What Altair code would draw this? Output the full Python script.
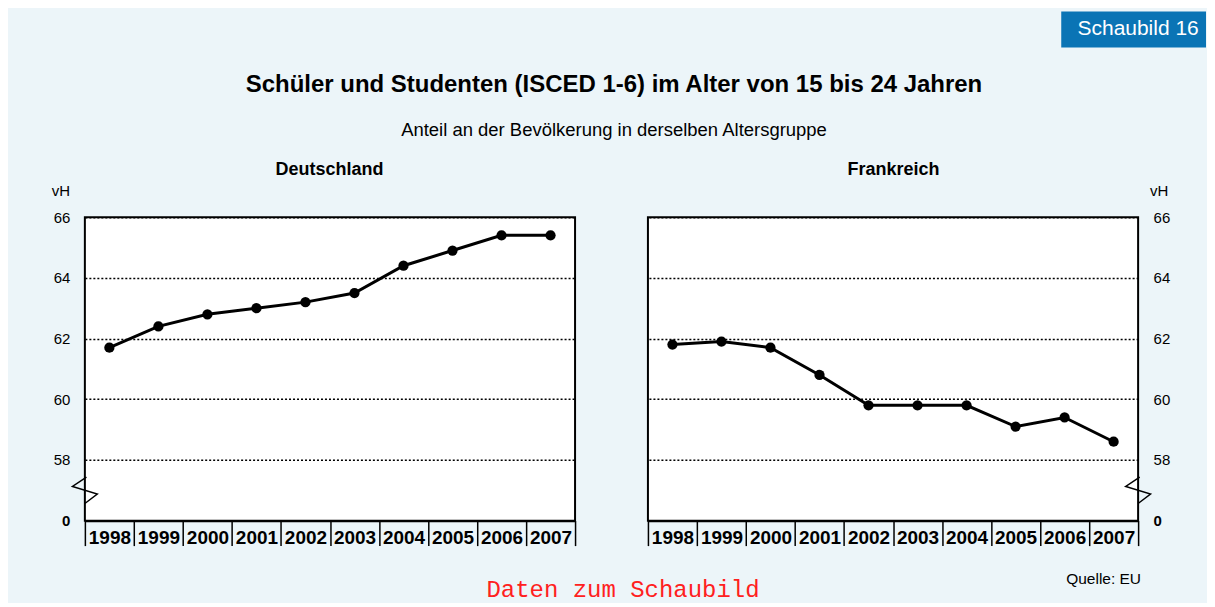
import altair as alt
import pandas as pd

years = ["1998", "1999", "2000", "2001", "2002", "2003", "2004", "2005", "2006", "2007"]
deutschland = [61.7, 62.4, 62.8, 63.0, 63.2, 63.5, 64.4, 64.9, 65.4, 65.4]
frankreich = [61.8, 61.9, 61.7, 60.8, 59.8, 59.8, 59.8, 59.1, 59.4, 58.6]
y_ticks = [56, 58, 60, 62, 64, 66]
break_value = [57]

FONT = "Liberation Sans"
BG = "#ecf5f9"
W, H = 491, 304

ZIGZAG = "M 0.12 -1 L -0.94 -0.29 L 0.94 0.29 L 0 1"


def txt(s, x, y, size, weight="normal", align="center", color="black", font=FONT, baseline="middle"):
    return alt.Chart(pd.DataFrame({"t": [s]})).mark_text(
        fontSize=size, fontWeight=weight, align=align, baseline=baseline,
        color=color, font=font
    ).encode(text="t:N", x=alt.value(x), y=alt.value(y))


def panel(values, name, side):
    df = pd.DataFrame({"Jahr": years, "vH": values})
    x = alt.X(
        "Jahr:O",
        scale=alt.Scale(type="band", paddingInner=0, paddingOuter=0),
        bandPosition=0.5,
        title=None,
        axis=alt.Axis(
            orient="bottom", labelAngle=0, labelFontSize=19, labelFontWeight="bold",
            labelFont=FONT, labelColor="black", tickBand="extent", tickSize=25,
            tickColor="black", tickWidth=1.5, labelPadding=-17,
            domainColor="black", domainWidth=2, grid=False,
        ),
    )
    y = alt.Y(
        "vH:Q",
        scale=alt.Scale(domain=[56, 66], nice=False, zero=False),
        title=None,
        axis=alt.Axis(
            orient=side, values=y_ticks, labelExpr="datum.value == 56 ? '0' : datum.label",
            labelFontSize=15, labelFont=FONT, labelColor="black", labelPadding=15,
            labelFontWeight={"condition": {"test": "datum.value == 56", "value": "bold"}, "value": "normal"},
            ticks=False, domain=False, grid=True, gridColor="black", gridDash=[2, 2],
            gridWidth=1.5, gridOpacity=1,
        ),
    )
    base = alt.Chart(df).encode(x=x, y=y)
    line = base.mark_line(color="black", strokeWidth=3)
    pts = base.mark_point(filled=True, color="black", size=105, opacity=1)
    zx = 0 if side == "left" else W
    zig = alt.Chart(pd.DataFrame({"vH": break_value})).mark_point(
        shape=ZIGZAG, filled=False, stroke="black", strokeWidth=1.5, size=700, opacity=1
    ).encode(x=alt.value(zx), y="vH:Q")
    layers = [line, pts, zig]
    if side == "left":
        layers.append(txt(name, 245, -47, 18, "bold"))
        layers.append(txt("vH", -24, -26, 15))
    else:
        layers.append(txt(name, 246, -47, 18, "bold"))
        layers.append(txt("vH", 512, -26, 15))
    return alt.layer(*layers).properties(width=W, height=H)


left = panel(deutschland, "Deutschland", "left")
right = panel(frankreich, "Frankreich", "right")

# extra annotations attached to the left panel (pixel coordinates relative to its plot area)
frame = alt.Chart(pd.DataFrame({"a": [0]})).mark_rect(opacity=0).encode(
    x=alt.value(-76), x2=alt.value(1123), y=alt.value(-208), y2=alt.value(383)
)
box = alt.Chart(pd.DataFrame({"a": [0]})).mark_rect(color="#0a74b5").encode(
    x=alt.value(978), x2=alt.value(1123), y=alt.value(-206), y2=alt.value(-170)
)
left = alt.layer(
    frame, left, box,
    txt("Schaubild 16", 1055, -188, 21, color="white"),
    txt("Schüler und Studenten (ISCED 1-6) im Alter von 15 bis 24 Jahren", 530, -132, 24, "bold"),
    txt("Anteil an der Bevölkerung in derselben Altersgruppe", 530, -87, 18.5),
    txt("Quelle: EU", 983, 362, 15.5, align="left"),
    txt("Daten zum Schaubild", 539, 373, 24, color="#ff2020", font="Liberation Mono"),
)

chart = alt.hconcat(left, right, spacing=73, bounds="flush").properties(
    background=BG, padding=0
).configure_view(
    stroke="black", strokeWidth=2, fill="white"
)

chart.save("out.html", embed_options={"renderer": "svg", "actions": False})
